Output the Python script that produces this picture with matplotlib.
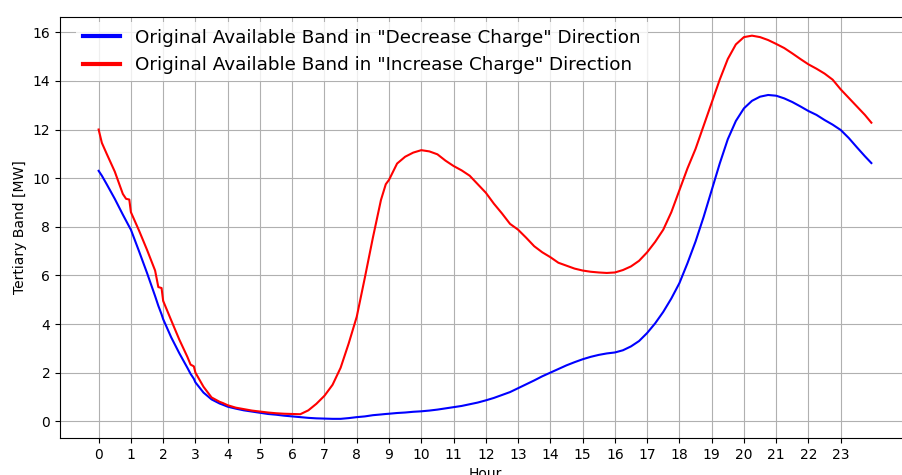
import numpy as np
import matplotlib
matplotlib.use("Agg")
import matplotlib.pyplot as plt

# Hour of day for each sample
hours = [0, 0.1, 0.25, 0.5, 0.75, 0.85, 0.95, 1.0, 1.25, 1.5, 1.75, 1.85, 1.95, 2.0,
         2.25, 2.5, 2.75, 2.85, 2.95, 3.0, 3.25, 3.5, 3.75, 3.85, 4.0, 4.25, 4.5,
         4.75, 5.0, 5.25, 5.5, 5.75, 6.0, 6.25, 6.5, 6.75, 7.0, 7.25, 7.5, 7.75,
         8.0, 8.25, 8.5, 8.75, 8.9, 9.0, 9.25, 9.5, 9.75, 10.0, 10.25, 10.5, 10.75,
         11.0, 11.25, 11.5, 11.75, 12.0, 12.25, 12.5, 12.75, 13.0, 13.25, 13.5,
         13.75, 14.0, 14.25, 14.5, 14.75, 15.0, 15.25, 15.5, 15.75, 16.0, 16.25,
         16.5, 16.75, 17.0, 17.25, 17.5, 17.75, 18.0, 18.25, 18.5, 18.75, 19.0,
         19.25, 19.5, 19.75, 20.0, 20.25, 20.5, 20.75, 21.0, 21.25, 21.5, 21.75,
         22.0, 22.25, 22.5, 22.75, 23.0, 23.25, 23.5, 23.75, 23.95]

# Available band in "Decrease Charge" direction [MW]
band_decrease = [10.3, 10.1, 9.75, 9.15, 8.5, 8.25, 8.0, 7.88, 7.0, 6.1, 5.15, 4.75,
                 4.4, 4.2, 3.45, 2.8, 2.2, 1.95, 1.75, 1.6, 1.18, 0.9, 0.73, 0.68,
                 0.6, 0.52, 0.45, 0.4, 0.35, 0.3, 0.27, 0.23, 0.2, 0.17, 0.14, 0.12,
                 0.11, 0.1, 0.1, 0.13, 0.17, 0.2, 0.25, 0.28, 0.3, 0.31, 0.34, 0.36,
                 0.39, 0.41, 0.44, 0.48, 0.53, 0.58, 0.63, 0.7, 0.77, 0.86, 0.96,
                 1.08, 1.2, 1.36, 1.52, 1.68, 1.85, 2.0, 2.15, 2.3, 2.43, 2.55, 2.65,
                 2.73, 2.79, 2.83, 2.92, 3.08, 3.3, 3.63, 4.03, 4.5, 5.05, 5.68, 6.5,
                 7.39, 8.4, 9.5, 10.6, 11.6, 12.35, 12.87, 13.18, 13.35, 13.42, 13.39,
                 13.28, 13.13, 12.95, 12.76, 12.6, 12.39, 12.2, 11.98, 11.65, 11.27,
                 10.9, 10.62]

# Available band in "Increase Charge" direction [MW]
band_increase = [12.0, 11.45, 11.0, 10.27, 9.35, 9.15, 9.12, 8.6, 7.85, 7.05, 6.2,
                 5.52, 5.48, 4.95, 4.15, 3.36, 2.65, 2.33, 2.26, 2.0, 1.42, 0.98,
                 0.8, 0.75, 0.66, 0.56, 0.5, 0.44, 0.4, 0.36, 0.33, 0.31, 0.3, 0.29,
                 0.45, 0.72, 1.05, 1.5, 2.2, 3.2, 4.3, 5.9, 7.55, 9.1, 9.75, 9.93,
                 10.6, 10.88, 11.05, 11.15, 11.1, 10.98, 10.72, 10.5, 10.32, 10.1,
                 9.75, 9.4, 8.95, 8.55, 8.12, 7.88, 7.55, 7.2, 6.95, 6.75, 6.52, 6.4,
                 6.28, 6.2, 6.15, 6.12, 6.1, 6.12, 6.22, 6.37, 6.6, 6.95, 7.38, 7.88,
                 8.6, 9.5, 10.4, 11.2, 12.15, 13.1, 14.05, 14.9, 15.5, 15.8, 15.86,
                 15.8, 15.68, 15.52, 15.35, 15.13, 14.9, 14.68, 14.5, 14.3, 14.05,
                 13.65, 13.3, 12.95, 12.6, 12.28]

hour_ticks = list(range(24))

fig = plt.figure(figsize=(9.02, 4.75), dpi=100)
ax = fig.add_axes([60 / 902, 37 / 475, 850 / 902, 421.5 / 475])

ax.plot(hours, band_decrease, color="blue", linewidth=1.5,
        label='Original Available Band in "Decrease Charge" Direction')
ax.plot(hours, band_increase, color="red", linewidth=1.5,
        label='Original Available Band in "Increase Charge" Direction')

ax.set_xticks(hour_ticks)
ax.grid(True)
ax.set_xlabel("Hour")
ax.set_ylabel("Tertiary Band [MW]")

leg = ax.legend(loc="upper left", fontsize=13.25, borderaxespad=0,
                bbox_to_anchor=(16 / 850, 1 - 5 / 421.5),
                framealpha=0.8, edgecolor="none", fancybox=False)
for line in leg.get_lines():
    line.set_linewidth(3)

fig.savefig("out.png", dpi=100)
